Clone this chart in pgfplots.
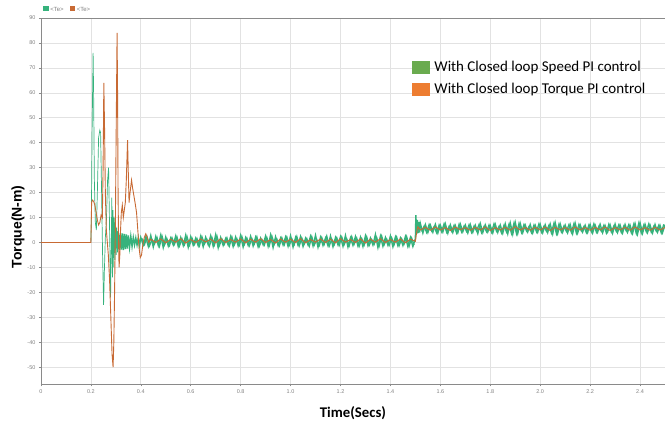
\documentclass[border=0pt]{standalone}
\usepackage{pgfplots}
\pgfplotsset{compat=1.18}
\usepackage{fontspec}
\setmainfont{Carlito}
\newfontfamily\tickfont{Liberation Sans}
\definecolor{spdgreen}{HTML}{36B27C}
\definecolor{trqorange}{HTML}{C86A34}
\definecolor{leggreen}{HTML}{6AAB4F}
\definecolor{legorange}{HTML}{ED7D31}
\definecolor{gridgray}{HTML}{E2E2E2}
\definecolor{axgray}{HTML}{8A8A8A}
\begin{document}
\begin{tikzpicture}
\begin{axis}[
    scale only axis,
    width=625pt, height=367pt,
    xmin=0, xmax=2.5,
    ymin=-56.9, ymax=90,
    axis x line=box, axis y line=left,
    axis line style={axgray, line width=0.6pt, -},
    xtick={0,0.2,0.4,0.6,0.8,1.0,1.2,1.4,1.6,1.8,2.0,2.2,2.4},
    xticklabels={0,0.2,0.4,0.6,0.8,1.0,1.2,1.4,1.6,1.8,2.0,2.2,2.4},
    ytick={-50,-40,-30,-20,-10,0,10,20,30,40,50,60,70,80,90},
    yticklabels={-50,-40,-30,-20,-10,0,10,20,30,40,50,60,70,80,90},
    tick label style={font=\tickfont\fontsize{5.5}{6}\selectfont, text=gray},
    tick style={axgray, line width=0.5pt},
    major tick length=2pt,
    tick align=outside,
    xtick pos=bottom, ytick pos=left,
    grid=major,
    grid style={gridgray, line width=0.6pt},
    xlabel={Time(Secs)},
    ylabel={Torque(N-m)},
    xlabel style={font=\bfseries\fontsize{14.8}{16}\selectfont, yshift=-6pt},
    ylabel style={font=\tickfont\bfseries\fontsize{14}{16}\selectfont,
        at={(ticklabel cs:0.43)}, yshift=-4pt},
    legend style={at={(axis cs:1.474,74.3)}, anchor=north west, draw=none, fill=none,
        font=\fontsize{15}{17}\selectfont, row sep=6pt,
        legend cell align=left},
]
\coordinate (sw) at (rel axis cs:0,0);
\coordinate (ne) at (rel axis cs:1,1);
\addlegendimage{legend image code/.code={\fill[leggreen] (0pt,-6pt) rectangle (17pt,6pt);\path (20pt,0pt);}}
\addlegendentry{With Closed loop Speed PI control}
\addlegendimage{legend image code/.code={\fill[legorange] (0pt,-6pt) rectangle (17pt,6pt);\path (18pt,0pt);}}
\addlegendentry{With Closed loop Torque PI control}
% speed PI control: start-up transient
\addplot[spdgreen, line width=0.7pt, forget plot] coordinates {
(0,0)(0.200,0)(0.202,10)(0.205,45)(0.209,76)(0.211,60)(0.214,25)(0.218,8)(0.222,5)
(0.226,20)(0.231,42)(0.236,45)(0.239,44)(0.243,20)(0.247,-5)(0.251,-25)(0.254,-12)
(0.258,2)(0.262,8)(0.267,25)(0.271,30)(0.274,12)(0.277,-8)(0.279,-22)(0.2815,-3)
(0.284,18)(0.2865,-14)(0.289,13)(0.2915,-10)(0.294,10)(0.2965,-7)(0.299,8)(0.3015,-5)
(0.304,6)(0.3065,-4)(0.309,4.5)
};
% speed PI control: steady ripple
\addplot[spdgreen, line width=1.4pt, forget plot] coordinates {
(0.309,4.5)(0.314,-3.0)(0.318,3.8)(0.322,-2.8)(0.326,3.6)(0.330,-3.0)
(0.334,3.4)(0.338,-2.6)(0.342,3.2)(0.346,-2.4)(0.350,2.8)(0.355,-2.0)(0.36,2.5)(0.365,-1.6)
(0.37,2.0)(0.375,-1.0)(0.38,1.8)(0.385,-1.0)(0.39,1.9)(0.395,-1.2)(0.40,2.0)
(0.41,-1.0)(0.42,2.2)(0.43,-1.5)(0.44,2.8)(0.45,-1.8)(0.46,2.4)(0.47,-1.2)(0.48,3.0)
(0.49,-2.0)(0.50,2.2)(0.51,-1.4)(0.52,1.8)(0.53,-1.0)(0.54,2.6)(0.55,-1.6)(0.56,2.0)
(0.57,-1.2)(0.58,2.9)(0.59,-1.9)(0.60,2.3)(0.61,-1.1)(0.62,1.7)(0.63,-1.3)(0.64,2.5)
(0.65,-1.7)(0.66,2.1)(0.67,-0.9)(0.68,2.7)(0.69,-1.5)(0.70,3.1)(0.71,-2.1)(0.72,2.0)
(0.73,-1.2)(0.74,1.6)(0.75,-1.0)(0.76,2.4)(0.77,-1.6)(0.78,2.2)(0.79,-1.3)(0.80,2.8)
(0.81,-1.8)(0.82,1.9)(0.83,-1.1)(0.84,2.5)(0.85,-1.4)(0.86,2.1)(0.87,-1.7)(0.88,1.7)
(0.89,-0.9)(0.90,2.6)(0.91,-1.5)(0.92,3.0)(0.93,-2.0)(0.94,2.3)(0.95,-1.2)(0.96,1.8)
(0.97,-1.0)(0.98,2.2)(0.99,-1.5)(1.00,2.7)(1.01,-1.8)(1.02,2.0)(1.03,-1.1)(1.04,2.4)
(1.05,-1.6)(1.06,1.7)(1.07,-1.0)(1.08,2.5)(1.09,-1.4)(1.10,2.9)(1.11,-1.9)(1.12,2.1)
(1.13,-1.2)(1.14,1.8)(1.15,-1.3)(1.16,2.6)(1.17,-1.7)(1.18,2.0)(1.19,-1.0)(1.20,2.3)
(1.21,-1.5)(1.22,2.8)(1.23,-1.8)(1.24,1.9)(1.25,-1.1)(1.26,2.4)(1.27,-1.4)(1.28,2.1)
(1.29,-1.6)(1.30,2.7)(1.31,-1.2)(1.32,1.8)(1.33,-1.0)(1.34,3.2)(1.35,-2.0)(1.36,2.5)
(1.37,-1.5)(1.38,2.0)(1.39,-1.1)(1.40,2.6)(1.41,-1.7)(1.42,2.2)(1.43,-1.3)(1.44,1.8)
(1.45,-1.2)(1.46,2.4)(1.47,-1.6)(1.48,2.0)(1.49,-1.6)(1.50,1.5)
(1.502,11.0)(1.505,3.5)(1.508,9.0)(1.511,3.8)(1.514,8.2)(1.517,4.0)(1.52,7.6)
(1.53,3.8)(1.54,7.2)(1.55,4.0)(1.56,7.0)
(1.57,4.1)(1.58,7.3)(1.59,3.8)(1.60,6.9)(1.61,4.2)(1.62,7.5)(1.63,3.7)(1.64,7.1)
(1.65,4.0)(1.66,6.8)(1.67,3.9)(1.68,7.4)(1.69,4.3)(1.70,7.0)(1.71,3.8)(1.72,7.2)
(1.73,4.1)(1.74,6.9)(1.75,3.6)(1.76,7.6)(1.77,4.0)(1.78,7.1)(1.79,4.2)(1.80,6.8)
(1.81,3.8)(1.82,7.3)(1.83,4.0)(1.84,7.0)(1.85,3.7)(1.86,7.5)(1.87,3.5)(1.88,7.9)
(1.89,3.3)(1.90,8.1)(1.91,3.6)(1.92,7.7)(1.93,3.9)(1.94,7.0)(1.95,4.2)(1.96,7.2)
(1.97,3.8)(1.98,6.9)(1.99,4.1)(2.00,7.3)(2.01,3.9)(2.02,7.1)(2.03,4.0)(2.04,7.4)
(2.05,3.4)(2.06,8.0)(2.07,3.6)(2.08,7.5)(2.09,4.1)(2.10,7.0)(2.11,3.9)(2.12,7.2)
(2.13,3.5)(2.14,7.8)(2.15,3.8)(2.16,7.1)(2.17,4.2)(2.18,6.9)(2.19,4.0)(2.20,7.2)
(2.21,3.8)(2.22,7.0)(2.23,4.1)(2.24,7.3)(2.25,3.9)(2.26,6.8)(2.27,4.2)(2.28,7.1)
(2.29,3.7)(2.30,7.4)(2.31,4.0)(2.32,7.0)(2.33,3.8)(2.34,7.2)(2.35,4.1)(2.36,6.9)
(2.37,3.6)(2.38,7.6)(2.39,3.4)(2.40,7.9)(2.41,3.7)(2.42,7.3)(2.43,4.0)(2.44,7.0)
(2.45,3.8)(2.46,7.2)(2.47,4.1)(2.48,6.9)(2.49,3.9)(2.50,7.1)
};
% speed PI control: ripple samples between the ones above
\addplot[spdgreen, line width=1.3pt, forget plot] coordinates {
(0.405,1.6)(0.415,-0.8)(0.425,2.3)(0.435,-1.3)(0.445,1.2)(0.455,-0.6)(0.465,2.0)(0.475,-1.5)
(0.485,2.6)(0.495,-1.0)(0.505,1.4)(0.515,-1.2)(0.525,1.9)(0.535,-0.7)(0.545,2.2)(0.555,-1.4)
(0.565,1.5)(0.575,-0.9)(0.585,2.4)(0.595,-1.1)(0.605,1.8)(0.615,-0.8)(0.625,1.6)(0.635,-1.3)
(0.645,2.3)(0.655,-0.6)(0.665,1.2)(0.675,-1.5)(0.685,2.0)(0.695,-1.0)(0.705,2.6)(0.715,-1.2)
(0.725,1.4)(0.735,-0.7)(0.745,1.9)(0.755,-1.4)(0.765,2.2)(0.775,-0.9)(0.785,1.5)(0.795,-1.1)
(0.805,2.4)(0.815,-0.8)(0.825,1.8)(0.835,-1.3)(0.845,1.6)(0.855,-0.6)(0.865,2.3)(0.875,-1.5)
(0.885,1.2)(0.895,-1.0)(0.905,2.0)(0.915,-1.2)(0.925,2.6)(0.935,-0.7)(0.945,1.4)(0.955,-1.4)
(0.965,1.9)(0.975,-0.9)(0.985,2.2)(0.995,-1.1)(1.005,1.5)(1.015,-0.8)(1.025,2.4)(1.035,-1.3)
(1.045,1.8)(1.055,-0.6)(1.065,1.6)(1.075,-1.5)(1.085,2.3)(1.095,-1.0)(1.105,1.2)(1.115,-1.2)
(1.125,2.0)(1.135,-0.7)(1.145,2.6)(1.155,-1.4)(1.165,1.4)(1.175,-0.9)(1.185,1.9)(1.195,-1.1)
(1.205,2.2)(1.215,-0.8)(1.225,1.5)(1.235,-1.3)(1.245,2.4)(1.255,-0.6)(1.265,1.8)(1.275,-1.5)
(1.285,1.6)(1.295,-1.0)(1.305,2.3)(1.315,-1.2)(1.325,1.2)(1.335,-0.7)(1.345,2.0)(1.355,-1.4)
(1.365,2.6)(1.375,-0.9)(1.385,1.4)(1.395,-1.1)(1.405,1.9)(1.415,-0.8)(1.425,2.2)(1.435,-1.3)
(1.445,1.5)(1.455,-0.6)(1.465,2.4)(1.475,-1.5)(1.485,1.8)(1.495,-1.0)
};
\addplot[spdgreen, line width=1.3pt, forget plot] coordinates {
(1.525,4.4)(1.535,6.6)(1.545,4.0)(1.555,7.2)(1.565,4.6)(1.575,6.4)(1.585,3.9)(1.595,7.0)
(1.605,4.3)(1.615,7.5)(1.625,4.1)(1.635,6.5)(1.645,4.5)(1.655,6.9)(1.665,3.8)(1.675,7.3)
(1.685,4.2)(1.695,6.6)(1.705,4.4)(1.715,7.1)(1.725,4.0)(1.735,6.6)(1.745,4.6)(1.755,7.2)
(1.765,3.9)(1.775,6.4)(1.785,4.3)(1.795,7.0)(1.805,4.1)(1.815,7.5)(1.825,4.5)(1.835,6.5)
(1.845,3.8)(1.855,6.9)(1.865,4.2)(1.875,7.3)(1.885,3.6)(1.895,7.8)(1.905,3.5)(1.915,7.6)
(1.925,4.0)(1.935,7.2)(1.945,4.6)(1.955,6.4)(1.965,3.9)(1.975,7.0)(1.985,4.3)(1.995,7.5)
(2.005,4.1)(2.015,6.5)(2.025,4.5)(2.035,6.9)(2.045,3.8)(2.055,7.7)(2.065,3.5)(2.075,7.3)
(2.085,4.2)(2.095,6.6)(2.105,4.4)(2.115,7.1)(2.125,4.0)(2.135,7.5)(2.145,3.7)(2.155,7.2)
(2.165,4.6)(2.175,6.4)(2.185,3.9)(2.195,7.0)(2.205,4.3)(2.215,7.5)(2.225,4.1)(2.235,6.5)
(2.245,4.5)(2.255,6.9)(2.265,3.8)(2.275,7.3)(2.285,4.2)(2.295,6.6)(2.305,4.4)(2.315,7.1)
(2.325,4.0)(2.335,6.6)(2.345,4.6)(2.355,7.2)(2.365,3.9)(2.375,7.4)(2.385,3.6)(2.395,7.8)
(2.405,3.8)(2.415,7.0)(2.425,4.3)(2.435,7.5)(2.445,4.1)(2.455,6.5)(2.465,4.5)(2.475,6.9)
(2.485,3.8)(2.495,7.3)
};
% torque PI control
\addplot[trqorange, line width=0.9pt, forget plot] coordinates {
(0,0)(0.200,0)(0.203,16)(0.206,17)(0.211,16.5)(0.216,15)(0.221,12)(0.226,9)(0.231,7)
(0.236,8)(0.241,11)(0.246,10)(0.249,30)(0.252,64)(0.255,45)(0.258,20)(0.262,5)(0.266,0)
(0.270,-5)(0.275,-15)(0.280,-30)(0.285,-45)(0.289,-50)(0.292,-40)(0.295,-20)(0.298,5)
(0.301,40)(0.305,84)(0.307,60)(0.309,20)(0.311,0)(0.313,-10)(0.316,-5)(0.319,5)
(0.322,12)(0.326,15)(0.330,10)(0.334,13)(0.338,16)(0.342,25)(0.347,41)(0.350,28)
(0.353,16)(0.357,20)(0.363,25)(0.367,22)(0.372,19)(0.377,16)(0.383,12)(0.388,5)
(0.393,-2)(0.398,-6)(0.403,-5)(0.408,-1)(0.414,2)(0.420,3.5)(0.426,2)(0.432,0)
(0.44,1.3)(0.46,0.0)(0.48,1.4)(0.50,-0.1)(0.52,1.3)(0.54,0.1)(0.56,1.5)(0.58,-0.2)
(0.60,1.2)(0.62,0.0)(0.64,1.4)(0.66,0.2)(0.68,1.3)(0.70,-0.1)(0.72,1.5)(0.74,0.0)
(0.76,1.2)(0.78,0.1)(0.80,1.4)(0.82,-0.1)(0.84,1.3)(0.86,0.1)(0.88,1.5)(0.90,0.0)
(0.92,1.2)(0.94,-0.2)(0.96,1.4)(0.98,0.1)(1.00,1.3)(1.02,0.0)(1.04,1.5)(1.06,-0.1)
(1.08,1.2)(1.10,0.1)(1.12,1.4)(1.14,0.0)(1.16,1.3)(1.18,-0.1)(1.20,1.5)(1.22,0.1)
(1.24,1.2)(1.26,0.0)(1.28,1.4)(1.30,-0.2)(1.32,1.3)(1.34,0.1)(1.36,1.5)(1.38,0.0)
(1.40,1.2)(1.42,0.1)(1.44,1.4)(1.46,-0.1)(1.48,1.3)(1.50,0.5)(1.505,4.0)(1.51,6.3)
(1.52,5.0)(1.54,6.1)(1.56,4.9)(1.58,6.2)(1.60,5.0)(1.62,6.0)(1.64,4.8)(1.66,6.2)
(1.68,5.1)(1.70,6.0)(1.72,4.9)(1.74,6.1)(1.76,5.0)(1.78,6.2)(1.80,4.8)(1.82,6.0)
(1.84,5.0)(1.86,6.1)(1.88,4.9)(1.90,6.3)(1.92,5.0)(1.94,6.0)(1.96,4.9)(1.98,6.1)
(2.00,5.0)(2.02,6.2)(2.04,4.8)(2.06,6.1)(2.08,5.0)(2.10,6.0)(2.12,4.9)(2.14,6.2)
(2.16,5.0)(2.18,6.0)(2.20,4.9)(2.22,6.1)(2.24,5.0)(2.26,6.2)(2.28,4.8)(2.30,6.0)
(2.32,5.0)(2.34,6.1)(2.36,4.9)(2.38,6.2)(2.40,5.0)(2.42,6.0)(2.44,4.9)(2.46,6.1)
(2.48,5.0)(2.50,6.0)
};
\end{axis}
% small series key above the plot
\node[anchor=base west, inner sep=0pt, font=\tickfont\fontsize{6}{7}\selectfont, text=gray]
  at ([shift={(2pt,6.5pt)}]sw |- ne)
  {\textcolor{spdgreen}{\rule{5.5pt}{5.5pt}}\ {<}Te{>}\quad\textcolor{trqorange}{\rule{5.5pt}{5.5pt}}\ {<}Te{>}};
\pgfresetboundingbox
\path[use as bounding box] ([shift={(-41pt,-42pt)}]sw) rectangle ([shift={(0pt,18pt)}]ne);
\end{tikzpicture}
\end{document}
